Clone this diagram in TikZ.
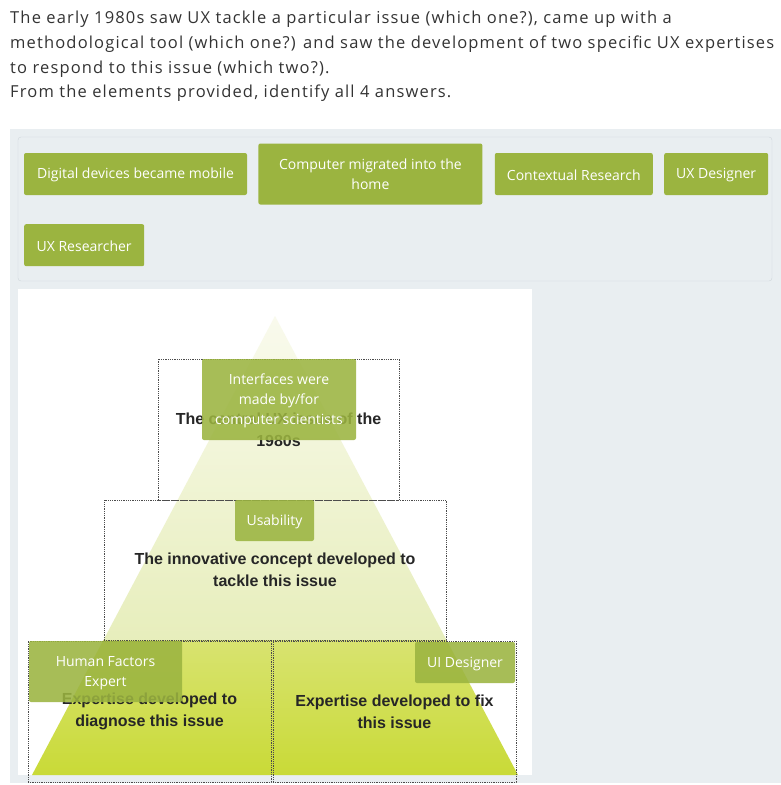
\documentclass[tikz,border=0pt]{standalone}
\usepackage{fontspec}
\setmainfont{Open Sans}
\newfontfamily\qfont[LetterSpace=7]{Open Sans}
\newfontfamily\arialfont{Liberation Sans}
\usetikzlibrary{positioning}
\definecolor{chipgreen}{RGB}{155,180,64}
\definecolor{panelgrey}{RGB}{233,238,241}
\definecolor{bankline}{RGB}{208,214,219}
\definecolor{qtext}{RGB}{51,51,51}
\definecolor{pyrtop}{RGB}{249,250,237}
\definecolor{pyrmid}{RGB}{231,238,188}
\definecolor{pyrlow}{RGB}{216,227,112}
\definecolor{pyrbot}{RGB}{201,218,55}
\begin{document}
\begin{tikzpicture}[x=1pt, y=-1pt, node distance=11pt,
  chip/.style={fill=chipgreen, text=white, rounded corners=2pt, align=center, inner sep=0pt, font=\fontsize{14}{20}\selectfont, execute at begin node={\rule{0pt}{13pt}}},
  placed/.style={chip, fill opacity=0.88, text opacity=1},
  lowered/.style={text depth=-6pt},
  zone/.style={draw=black!70, densely dotted, line width=0.8pt, align=center, text=black!85, font=\arialfont\bfseries\fontsize{16}{22}\selectfont}]
\useasboundingbox (0,0) rectangle (781,785);
\node[anchor=north west, align=left, inner sep=0pt, text=qtext, font=\qfont\fontsize{16.5}{24.7}\selectfont] (q) at (10,11)
  {The early 1980s saw UX tackle a particular issue (which one?), came up with a\\
   methodological tool (which one?) and saw the development of two specific UX expertises\\
   to respond to this issue (which two?).\\
   From the elements provided, identify all 4 answers.};
\fill[panelgrey] (10,129) rectangle (781,783);
\draw[bankline, rounded corners=3pt] (18,137) rectangle (772,281);
\node[chip, minimum width=223, minimum height=42] (dd) at (135.5,174) {Digital devices became mobile};
\node[chip, minimum width=224, minimum height=61, right=11pt of dd] (cm) {Computer migrated into the\\home};
\node[chip, minimum width=158, minimum height=42, right=12pt of cm] (cr) {Contextual Research};
\node[chip, minimum width=104, minimum height=42, right=11pt of cr] (ud) {UX Designer};
\node[chip, minimum width=120, minimum height=42, anchor=north west] (ur) at (24,224) {UX Researcher};
\fill[white] (18,289) rectangle (532,775);
\begin{scope}
\clip (275,316) -- (518,775) -- (32,775) -- cycle;
\shade[top color=pyrtop, bottom color=pyrmid] (18,316) rectangle (532,640);
\shade[top color=pyrlow, bottom color=pyrbot] (18,640) rectangle (532,775);
\end{scope}
\node[zone, minimum width=241, minimum height=141] (z1) at (278.5,429.5) {The central UX issue of the\\1980s};
\node[zone, minimum width=342, minimum height=140] (z2) at (275,570) {The innovative concept developed to\\tackle this issue};
\node[zone, minimum width=243, minimum height=141] (z3) at (149.5,711.5) {Expertise developed to\\diagnose this issue};
\node[zone, minimum width=243, minimum height=141] (z4) at (394.5,711.5) {Expertise developed to fix\\this issue};
\node[placed, lowered, minimum width=154, minimum height=81] (ifc) at (279,399.5) {Interfaces were\\made by/for\\computer scientists};
\node[placed, minimum width=79, minimum height=41] (us) at (274.5,520.5) {Usability};
\node[placed, lowered, minimum width=153, minimum height=61] (hf) at (105.5,671.5) {Human Factors\\Expert};
\node[placed, minimum width=100, minimum height=41] (ui) at (465,662.5) {UI Designer};
\end{tikzpicture}
\end{document}
